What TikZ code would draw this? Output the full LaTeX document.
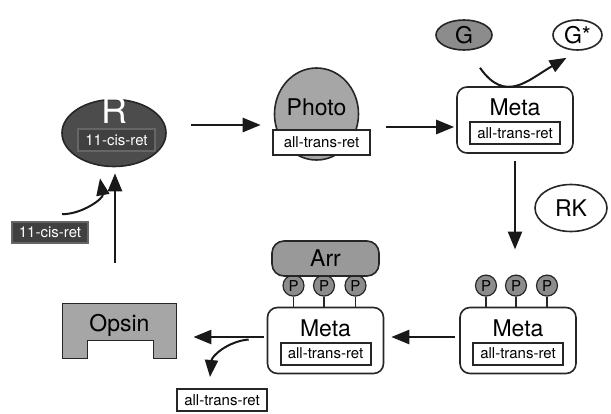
\documentclass[tikz,border=0pt]{standalone}
\usepackage{fontspec}
\setmainfont{TeX Gyre Heros}
\usetikzlibrary{shapes.geometric,arrows.meta,positioning,calc}

\newcommand{\bigtxt}{\fontsize{11.5}{13}\selectfont}
\newcommand{\rettxt}{\fontsize{7.5}{9}\selectfont}

\begin{document}
\begin{tikzpicture}[
  x=0.5pt, y=-0.5pt,
  every node/.style={font=\bigtxt},
  oval/.style={ellipse, draw=black!85, line width=0.8pt, inner sep=0pt},
  metabox/.style={rectangle, draw=black!85, fill=white, line width=0.8pt, rounded corners=5pt, minimum width=58pt, minimum height=33pt},
  retbox/.style={rectangle, draw=black!85, fill=white, line width=1pt, minimum width=45pt, minimum height=11pt, inner sep=0pt, font=\rettxt},
  cisbox/.style={rectangle, draw=black!60, fill=black!75, text=white, line width=0.8pt, minimum width=38pt, minimum height=10.5pt, inner sep=0pt, font=\rettxt},
  pcirc/.style={circle, draw=black!85, fill=black!45, line width=0.6pt, minimum size=10.5pt, inner sep=0pt, font=\fontsize{7.5}{8}\selectfont},
  arrbox/.style={rectangle, draw=black!85, fill=black!40, line width=0.8pt, rounded corners=6pt, minimum width=53.5pt, minimum height=17.5pt},
  stem/.style={draw=black!85, line width=0.6pt},
  arrow/.style={-{Triangle[length=9pt,width=7pt]}, line width=1.3pt, color=black!90},
  bendarrow/.style={-{Triangle[length=8.5pt,width=6.5pt]}, line width=1pt, color=black!90}
]
\useasboundingbox (0,0) rectangle (611,413);

% Rhodopsin
\node[oval, fill=black!70, minimum width=52pt, minimum height=33.5pt] (R) at (114,133) {};
\node[text=white, font=\fontsize{18}{20}\selectfont] (Rlbl) at ([yshift=11.5pt]R.center) {R};
\node[cisbox, minimum width=38.5pt, minimum height=11pt] (Rret) at ([xshift=1.25pt,yshift=-3.5pt]R.center) {11-cis-ret};

% Free 11-cis retinal
\node[cisbox] (cis) at (50,232.5) {11-cis-ret};

% Photo intermediate
\node[oval, fill=black!35, minimum width=42pt, minimum height=46pt] (photo) at (316.5,114) {};
\node (photolbl) at ([yshift=3.5pt]photo.center) {Photo};
\node[retbox, minimum width=48.5pt, minimum height=12.5pt] (photoret) at ([xshift=2.5pt,yshift=-14pt]photo.center) {all-trans-ret};

% Active Meta
\node[metabox] (meta1) at (515,120) {};
\node (meta1lbl) at ([yshift=6.5pt]meta1.center) {Meta};
\node[retbox] (meta1ret) at ([yshift=-6.5pt]meta1.center) {all-trans-ret};

% Transducin
\node[oval, fill=black!45, minimum width=28pt, minimum height=15pt] (G) at (464,35) {G};
\node[oval, fill=white, minimum width=24.5pt, minimum height=15pt] (Gs) at (577.5,35) {G*};

% Rhodopsin kinase
\node[oval, fill=white, minimum width=36pt, minimum height=23.5pt] (RK) at (571,208) {RK};

% Phosphorylated Meta
\node[metabox] (meta3) at (518,340.5) {};
\node (meta3lbl) at ([yshift=6pt]meta3.center) {Meta};
\node[retbox] (meta3ret) at ([yshift=-6.5pt]meta3.center) {all-trans-ret};
\node[pcirc, above=5pt of meta3.north, xshift=-16pt] (pb1) {P};
\node[pcirc, above=5pt of meta3.north, xshift=-1pt] (pb2) {P};
\node[pcirc, above=5pt of meta3.north, xshift=14.5pt] (pb3) {P};
\draw[stem] (pb1) -- (pb1 |- meta3.north);
\draw[stem] (pb2) -- (pb2 |- meta3.north);
\draw[stem] (pb3) -- (pb3 |- meta3.north);

% Arrestin bound Meta
\node[metabox] (meta2) at (325.5,340.5) {};
\node (meta2lbl) at ([yshift=6pt]meta2.center) {Meta};
\node[retbox] (meta2ret) at ([yshift=-6.5pt]meta2.center) {all-trans-ret};
\node[pcirc, above=5pt of meta2.north, xshift=-16pt] (pa1) {P};
\node[pcirc, above=5pt of meta2.north, xshift=-0.75pt] (pa2) {P};
\node[pcirc, above=5pt of meta2.north, xshift=15pt] (pa3) {P};
\draw[stem] (pa1) -- (pa1 |- meta2.north);
\draw[stem] (pa2) -- (pa2 |- meta2.north);
\draw[stem] (pa3) -- (pa3 |- meta2.north);
\node[arrbox] (arr) at (325.5,258.5) {Arr};

% Opsin
\node[minimum width=56.5pt, minimum height=27pt, inner sep=0pt] (opsin) at (119.5,331) {};
\filldraw[fill=black!35, draw=black!85, line width=0.8pt]
  (opsin.north west) -- (opsin.north east) -- (opsin.south east)
  -- ++(-11.5pt,0pt) -- ++(0pt,9pt) -- ++(-33pt,0pt) -- ++(0pt,-9pt)
  -- (opsin.south west) -- cycle;
\node (opsinlbl) at ([yshift=3pt]opsin.center) {Opsin};

% Released retinal
\node[retbox] (retout) at (222,400) {all-trans-ret};

% Connectors
\coordinate (opsinup) at (115,263);
\draw[arrow] ([xshift=12pt,yshift=4pt]R.east) -- ([xshift=-6.5pt,yshift=4pt]R.east -| photo.west);
\draw[arrow] ([xshift=13.5pt,yshift=-6.5pt]photo.east) -- ([xshift=-1pt,yshift=-6.5pt]photo.east -| meta1.west);
\draw[bendarrow] ([xshift=8pt,yshift=-8.5pt]G.south) to[out=-55,in=210,looseness=1.3] ([xshift=-5.5pt,yshift=-3.5pt]Gs.south);
\draw[arrow] ([yshift=-3.5pt]meta1.south) -- ([yshift=12.5pt]meta1.south |- pb2.north);
\draw[arrow] ([xshift=-2pt,yshift=1.75pt]meta3.west) -- ([xshift=3.5pt,yshift=1.75pt]meta3.west -| meta2.east);
\draw[arrow] ([xshift=-1.5pt,yshift=1.75pt]meta2.west) -- ([xshift=8.5pt,yshift=1.75pt]meta2.west -| opsin.east);
\draw[bendarrow] ([xshift=-9pt,yshift=0.5pt]meta2.west) to[out=185,in=85] ([xshift=-6pt,yshift=5.5pt]retout.north);
\draw[bendarrow] ([xshift=6pt,yshift=3.5pt]cis.north) to[out=0,in=-80] ([xshift=-7pt,yshift=-5.5pt]R.south);
\draw[arrow] (opsinup) -- ([yshift=-3pt]R.south -| opsinup);

\end{tikzpicture}
\end{document}
